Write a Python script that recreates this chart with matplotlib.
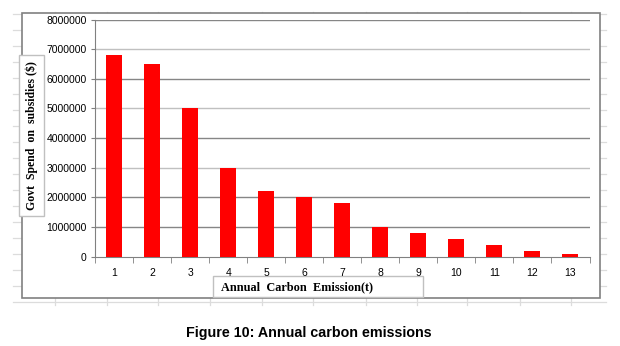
import matplotlib
matplotlib.use("Agg")
import matplotlib.pyplot as plt
from matplotlib.patches import Rectangle

# Dados do gráfico
anos = [1, 2, 3, 4, 5, 6, 7, 8, 9, 10, 11, 12, 13]
gastos = [6800000, 6500000, 5000000, 3000000, 2200000, 2000000, 1800000,
          1000000, 800000, 600000, 400000, 200000, 100000]
y_ticks = [0, 1000000, 2000000, 3000000, 4000000, 5000000, 6000000, 7000000, 8000000]
y_label = "Govt  Spend  on  subsidies ($)"
x_label = "Annual  Carbon  Emission(t)"
legenda = "Figure 10: Annual carbon emissions"

W, H = 620, 346
fig = plt.figure(figsize=(W / 100, H / 100), dpi=100)

# Fundo tipo planilha (pixels)
bg = fig.add_axes([0, 0, 1, 1])
bg.set_xlim(0, W)
bg.set_ylim(H, 0)
bg.axis("off")
grid_c = "#dcdcdc"
for y in range(14, 304, 16):
    bg.plot([13, 606], [y, y], color=grid_c, lw=0.9, zorder=0)
for x in [55.3, 106.7, 158.3, 210, 261.7, 312.7, 365.7, 416.7, 467, 519.7, 570.7]:
    bg.plot([x, x], [11.5, 305], color=grid_c, lw=0.9, zorder=0)
# Moldura do gráfico
bg.add_patch(Rectangle((21.7, 13.3), 600.3 - 21.7, 298.3 - 13.3,
                       facecolor="white", edgecolor="#808080", lw=1.2, zorder=1))
# Caixas dos rótulos
bg.add_patch(Rectangle((19.3, 55), 25, 161, facecolor="white",
                       edgecolor="#c0c0c0", lw=1.0, zorder=2))
bg.add_patch(Rectangle((213.3, 276), 209.4, 20.7, facecolor="white",
                       edgecolor="#c0c0c0", lw=1.0, zorder=2))
bg.text(31.8, 135.5, y_label, rotation=90, ha="center", va="center",
        fontsize=8.5, fontweight="bold", family="Liberation Serif", zorder=3)
bg.text(221, 287.5, x_label, ha="left", va="center",
        fontsize=8.8, fontweight="bold", family="Liberation Serif", zorder=3)
bg.text(309, 333, legenda, ha="center", va="center",
        fontsize=10.3, fontweight="bold", family="Liberation Sans", zorder=3)

# Eixo principal
l, r, t, b = 95, 589.5, 19.5, 256.7
ax = fig.add_axes([l / W, 1 - b / H, (r - l) / W, (b - t) / H])
ax.patch.set_alpha(0)
ax.bar(anos, gastos, width=0.42, color="#ff0000", zorder=3)
ax.set_xlim(0.5, 13.5)
ax.set_ylim(0, 8000000)

for v in y_ticks[1:]:
    escuro = v in (1000000, 2000000, 4000000, 6000000, 8000000)
    ax.axhline(v, color="#868686" if escuro else "#c0c0c0", lw=1.0, zorder=1)

ax.set_yticks(y_ticks)
ax.set_yticklabels([str(v) for v in y_ticks], fontsize=7.5, family="Liberation Sans")
ax.set_xticks(anos)
ax.set_xticklabels([str(a) for a in anos], fontsize=7.5, family="Liberation Sans")
ax.set_xticks([a + 0.5 for a in [0] + anos], minor=True)
ax.tick_params(axis="x", which="major", length=0, pad=8)
ax.tick_params(axis="x", which="minor", length=4, color="#808080", direction="out")
ax.tick_params(axis="y", length=3, color="#808080", pad=3)

for s in ["top", "right"]:
    ax.spines[s].set_visible(False)
ax.spines["left"].set_color("#808080")
ax.spines["bottom"].set_color("#808080")

plt.savefig("out.png", dpi=100)
